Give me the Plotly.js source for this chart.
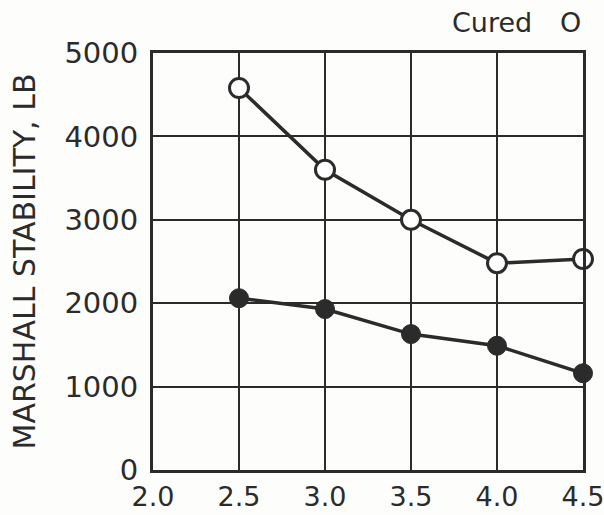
<!DOCTYPE html>
<html><head><meta charset="utf-8">
<script src="https://cdn.plot.ly/plotly-3.0.1.min.js"></script>
<style>html,body{margin:0;padding:0;background:#fdfdfb;}</style>
</head><body>
<div id="chart" style="width:604px;height:515px;"></div>
<script>
const asphaltContent = [2.5, 3.0, 3.5, 4.0, 4.5];
const curedStability = [4580, 3600, 3000, 2480, 2530];
const uncuredStability = [2060, 1930, 1630, 1490, 1160];
const xTicks = [2.0, 2.5, 3.0, 3.5, 4.0, 4.5];
const xTickText = ['2.0', '2.5', '3.0', '3.5', '4.0', '4.5'];
const yTicks = [0, 1000, 2000, 3000, 4000, 5000];

const ink = '#2b2b2b';
const font = 'DejaVu Sans, sans-serif';

const traces = [
  {x: asphaltContent, y: uncuredStability, mode: 'lines+markers', name: 'Uncured',
   line: {color: ink, width: 3.5},
   marker: {symbol: 'circle', size: 19, color: ink, line: {color: ink, width: 1}},
   cliponaxis: false, showlegend: false},
  {x: asphaltContent, y: curedStability, mode: 'lines+markers', name: 'Cured',
   line: {color: ink, width: 3.5},
   marker: {symbol: 'circle', size: 19, color: '#ffffff', line: {color: ink, width: 3}},
   cliponaxis: false, showlegend: false}
];

const layout = {
  width: 604, height: 515,
  margin: {l: 153, r: 21, t: 53, b: 45},
  paper_bgcolor: '#fdfdfb', plot_bgcolor: '#fdfdfb',
  font: {family: font, color: ink, size: 25},
  showlegend: false,
  xaxis: {range: [2.0, 4.5], tickvals: xTicks, ticktext: xTickText,
    showgrid: true, gridcolor: ink, gridwidth: 2,
    showline: true, linecolor: ink, linewidth: 3, mirror: true,
    zeroline: false, ticks: '', ticklabelstandoff: 1, automargin: false,
    ticklabeloverflow: 'allow',
    tickfont: {family: font, size: 27, color: ink}},
  yaxis: {range: [0, 5000], tickvals: yTicks,
    showgrid: true, gridcolor: ink, gridwidth: 2,
    showline: true, linecolor: ink, linewidth: 3, mirror: true,
    zeroline: false, ticks: '', ticklabelstandoff: 6, automargin: false,
    ticklabeloverflow: 'allow',
    tickfont: {family: font, size: 29, color: ink},
    title: {text: 'MARSHALL STABILITY, LB', standoff: 20,
      font: {family: font, size: 30, color: ink}}},
  annotations: [
    {xref: 'paper', yref: 'paper', x: 0.885, y: 1.074, xanchor: 'right', yanchor: 'middle',
     text: 'Cured', showarrow: false, font: {family: font, size: 27, color: ink}},
    {xref: 'paper', yref: 'paper', x: 0.97, y: 1.074, xanchor: 'center', yanchor: 'middle',
     text: 'O', showarrow: false, font: {family: font, size: 27, color: ink}}
  ]
};

Plotly.newPlot('chart', traces, layout, {displayModeBar: false, staticPlot: true});
</script>
</body></html>
